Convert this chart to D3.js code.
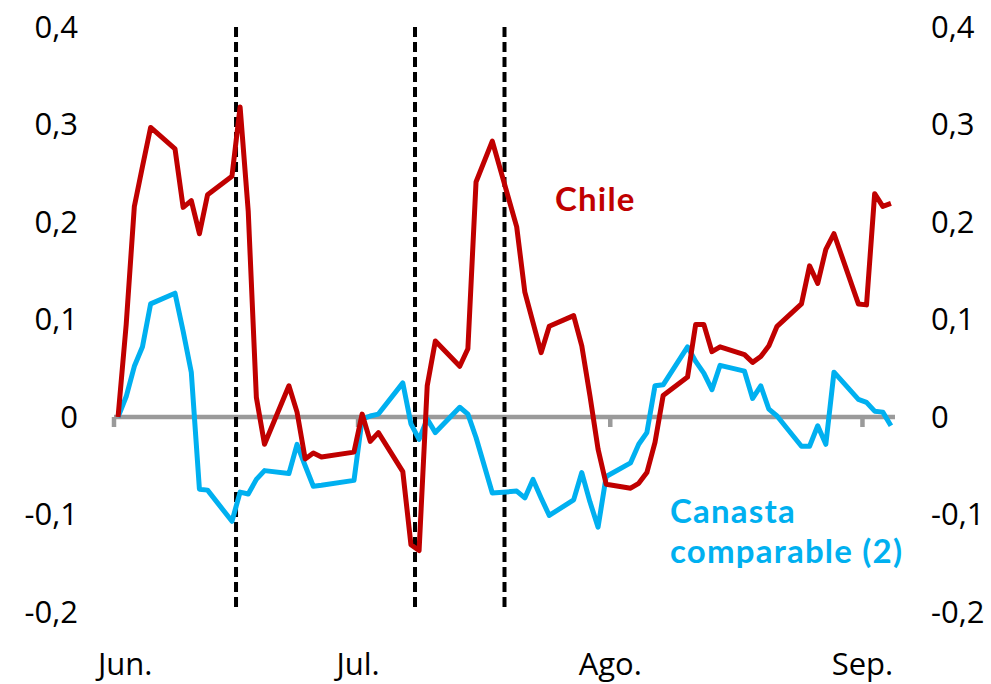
<!DOCTYPE html>
<html>
<head>
<meta charset="utf-8">
<script src="https://cdn.jsdelivr.net/npm/d3@7"></script>
<style>
  body { margin: 0; background: #fff; }
  text { font-family: "Open Sans", sans-serif; }
  text.lbl { font-family: Lato, "Open Sans", sans-serif; letter-spacing: 1.2px; }
</style>
</head>
<body>
<div id="chart"></div>
<script>
// business days (Chile), jun-sep 2020
var dates = [
  "2020-06-01","2020-06-02","2020-06-03","2020-06-04","2020-06-05",
  "2020-06-08","2020-06-09","2020-06-10","2020-06-11","2020-06-12",
  "2020-06-15","2020-06-16","2020-06-17","2020-06-18","2020-06-19",
  "2020-06-22","2020-06-23","2020-06-24","2020-06-25","2020-06-26",
  "2020-06-30",
  "2020-07-01","2020-07-02","2020-07-03",
  "2020-07-06","2020-07-07","2020-07-08","2020-07-09","2020-07-10",
  "2020-07-13","2020-07-14","2020-07-15","2020-07-17",
  "2020-07-20","2020-07-21","2020-07-22","2020-07-23","2020-07-24",
  "2020-07-27","2020-07-28","2020-07-29","2020-07-30","2020-07-31",
  "2020-08-03","2020-08-04","2020-08-05","2020-08-06","2020-08-07",
  "2020-08-10","2020-08-11","2020-08-12","2020-08-13","2020-08-14",
  "2020-08-17","2020-08-18","2020-08-19","2020-08-20","2020-08-21",
  "2020-08-24","2020-08-25","2020-08-26","2020-08-27","2020-08-28",
  "2020-08-31",
  "2020-09-01","2020-09-02","2020-09-03","2020-09-04"
];

var chile = [
  0.000, 0.095, 0.216, 0.257, 0.297,
  0.275, 0.215, 0.222, 0.188, 0.228,
  0.247, 0.318, 0.211, 0.020, -0.028,
  0.032, 0.005, -0.043, -0.037, -0.041,
  -0.036,
  0.003, -0.025, -0.016,
  -0.056, -0.131, -0.137, 0.032, 0.078,
  0.052, 0.070, 0.241, 0.283,
  0.195, 0.128, 0.097, 0.066, 0.093,
  0.104, 0.073, 0.022, -0.033, -0.069,
  -0.073, -0.068, -0.057, -0.026, 0.022,
  0.041, 0.095, 0.095, 0.067, 0.072,
  0.064, 0.056, 0.062, 0.073, 0.093,
  0.116, 0.155, 0.137, 0.172, 0.188,
  0.116,
  0.115, 0.229, 0.216, 0.219
];

var canasta = [
  0.000, 0.021, 0.052, 0.072, 0.116,
  0.127, 0.088, 0.046, -0.074, -0.075,
  -0.107, -0.077, -0.079, -0.064, -0.055,
  -0.058, -0.028, -0.050, -0.071, -0.070,
  -0.065,
  -0.002, 0.001, 0.003,
  0.035, -0.007, -0.023, -0.002, -0.016,
  0.010, 0.003, -0.021, -0.078,
  -0.076, -0.083, -0.064, -0.083, -0.101,
  -0.085, -0.057, -0.087, -0.113, -0.061,
  -0.047, -0.028, -0.016, 0.032, 0.033,
  0.072, 0.057, 0.045, 0.028, 0.053,
  0.047, 0.019, 0.032, 0.008, 0.001,
  -0.030, -0.030, -0.009, -0.028, 0.046,
  0.018,
  0.015, 0.006, 0.005, -0.009
];

var monthTicks = ["2020-06-01","2020-07-01","2020-08-01","2020-09-01"];
var monthLabels = ["Jun.","Jul.","Ago.","Sep."];
var eventDates = ["2020-06-16","2020-07-08","2020-07-19"];
var yTicks = [0.4, 0.3, 0.2, 0.1, 0, -0.1, -0.2];

var width = 991, height = 684;
var parse = d3.utcParse("%Y-%m-%d");

var x = d3.scaleUtc()
    .domain([parse("2020-06-01"), parse("2020-09-05")])
    .range([114, 895]);
var y = d3.scaleLinear()
    .domain([-0.2, 0.4])
    .range([612, 27]);

var svg = d3.select("#chart").append("svg")
    .attr("width", width)
    .attr("height", height);

var fmt = function(v) {
    return v === 0 ? "0" : d3.format(".1f")(v).replace(".", ",").replace("−", "-");
};

// y labels both sides
svg.selectAll(".yl").data(yTicks).enter().append("text")
    .attr("x", 78).attr("y", function(d) { return y(d); })
    .attr("dy", "0.35em")
    .attr("text-anchor", "end")
    .attr("font-size", 31)
    .text(fmt);
svg.selectAll(".yr").data(yTicks).enter().append("text")
    .attr("x", 931).attr("y", function(d) { return y(d); })
    .attr("dy", "0.35em")
    .attr("text-anchor", "start")
    .attr("font-size", 31)
    .text(fmt);

// zero axis
svg.append("line")
    .attr("x1", x.range()[0]).attr("x2", x.range()[1])
    .attr("y1", y(0)).attr("y2", y(0))
    .attr("stroke", "#9a9a9a").attr("stroke-width", 4.5);
svg.selectAll(".tk").data(monthTicks).enter().append("line")
    .attr("x1", function(d) { return x(parse(d)); })
    .attr("x2", function(d) { return x(parse(d)); })
    .attr("y1", y(0)).attr("y2", y(0) + 10)
    .attr("stroke", "#9a9a9a").attr("stroke-width", 4.5);

// month labels
svg.selectAll(".ml").data(monthTicks).enter().append("text")
    .attr("x", function(d) { return x(parse(d)); })
    .attr("y", 675)
    .attr("text-anchor", "middle")
    .attr("font-size", 31)
    .text(function(d, i) { return monthLabels[i]; })
    .each(function() {
        var w = this.getComputedTextLength();
        var cx = +d3.select(this).attr("x");
        if (cx - w / 2 < 98) d3.select(this).attr("x", 98 + w / 2);
    });

// event lines
svg.selectAll(".ev").data(eventDates).enter().append("line")
    .attr("x1", function(d) { return x(parse(d)); })
    .attr("x2", function(d) { return x(parse(d)); })
    .attr("y1", y(0.4)).attr("y2", y(-0.2))
    .attr("stroke", "#000").attr("stroke-width", 4)
    .attr("stroke-dasharray", "10,5");

var line = function(vals) {
    return d3.line()
        .x(function(d, i) { return x(d3.utcHour.offset(parse(dates[i]), 12)); })
        .y(function(d) { return y(d); })(vals);
};

svg.append("path")
    .attr("d", line(canasta))
    .attr("fill", "none")
    .attr("stroke", "#00B0F0")
    .attr("stroke-width", 5)
    .attr("stroke-linejoin", "round");

svg.append("path")
    .attr("d", line(chile))
    .attr("fill", "none")
    .attr("stroke", "#C00000")
    .attr("stroke-width", 5)
    .attr("stroke-linejoin", "round");

// series labels
svg.append("text").attr("class", "lbl")
    .attr("x", 555).attr("y", 211)
    .attr("font-size", 33).attr("font-weight", "bold")
    .attr("fill", "#C00000")
    .text("Chile");

svg.append("text").attr("class", "lbl")
    .attr("x", 670).attr("y", 523)
    .attr("font-size", 33).attr("font-weight", "bold")
    .attr("fill", "#00B0F0")
    .text("Canasta");
svg.append("text").attr("class", "lbl")
    .attr("x", 670).attr("y", 563)
    .attr("font-size", 33).attr("font-weight", "bold")
    .attr("fill", "#00B0F0")
    .text("comparable (2)");
</script>
</body>
</html>
